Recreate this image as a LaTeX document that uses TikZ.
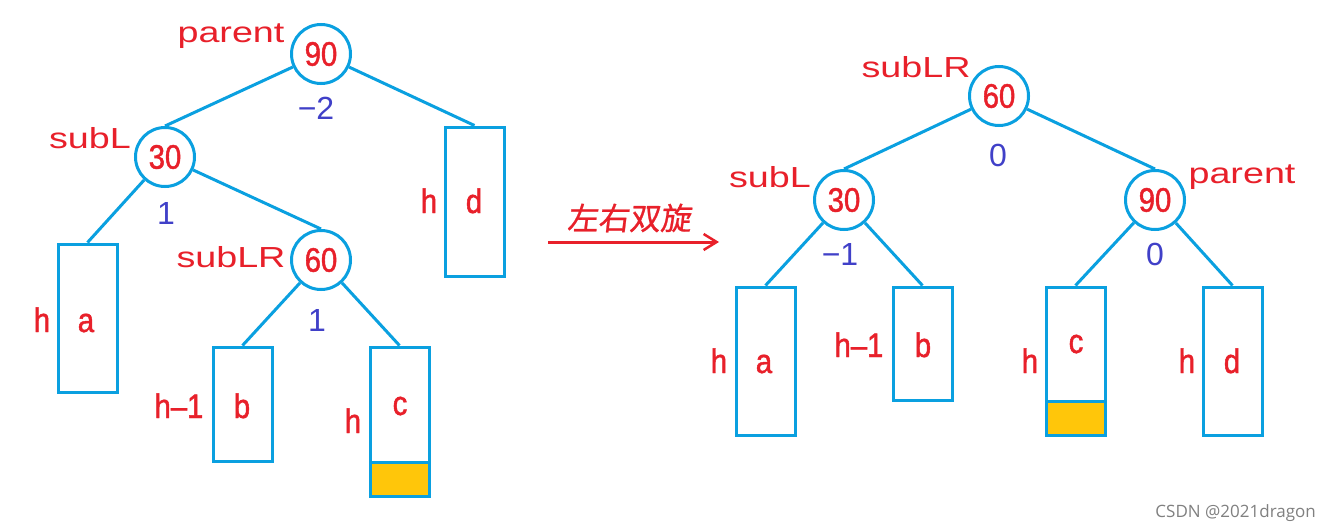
\documentclass[tikz,border=0pt]{standalone}
\usepackage{fontspec}
\setmainfont{Liberation Sans}
\newfontfamily\redfont[FakeStretch=0.86,FakeBold=1.3]{Liberation Sans}
\newfontfamily\labfont[FakeStretch=1.3]{Liberation Sans}
\newfontfamily\cjkfont[FakeSlant=0.12,FakeBold=0.8]{Noto Sans CJK SC}
\newfontfamily\wmfont{Open Sans}
\usetikzlibrary{arrows.meta}
\definecolor{lblue}{HTML}{0AA0E0}
\definecolor{tred}{HTML}{E8202A}
\definecolor{nblue}{HTML}{4040C8}
\definecolor{yel}{HTML}{FFC60A}
\tikzset{
  circ/.style={circle, draw=lblue, line width=3pt, minimum size=59pt, inner sep=0pt, fill=white,
    text=tred, font=\redfont\fontsize{34}{34}\selectfont},
  bx/.style={draw=lblue, line width=3pt, minimum width=59pt, inner sep=0pt},
  yb/.style={bx, fill=yel, minimum height=34pt},
  lt/.style={text=tred, font=\redfont\fontsize{34}{36}\selectfont, anchor=base, inner sep=0pt},
  nm/.style={text=tred, font=\labfont\fontsize{29}{30}\selectfont, anchor=base, inner sep=0pt},
  bf/.style={text=nblue, font=\fontsize{32}{34}\selectfont, inner sep=0pt},
  edge/.style={draw=lblue, line width=3pt},
}
\begin{document}
\begin{tikzpicture}[x=1pt,y=-1pt]
\useasboundingbox (0,0) rectangle (1330,530);
\fill[white] (0,0) rectangle (1330,530);
% ---------- left tree ----------
\node[bx, minimum height=149pt] (Ld) at (474.5,201.5) {};
\node[bx, minimum height=148pt] (La) at (87.5,318) {};
\node[bx, minimum height=114pt] (Lb) at (242.5,404) {};
\node[bx, minimum height=149pt] (Lc) at (399.5,421.5) {};
\node[yb] (Ly) at (399.5,479) {};
\node[circ] (L90) at (321,54) {90};
\node[circ] (L30) at (165,157) {30};
\node[circ] (L60) at (321,260) {60};
\draw[edge] (L90) -- (L30.north);
\draw[edge] (L90) -- (Ld.north);
\draw[edge] (L30) -- (La.north);
\draw[edge] (L30) -- (L60.north);
\draw[edge] (L60) -- (Lb.north);
\draw[edge] (L60) -- (Lc.north);
\node[nm] (Lparent) at (231,42) {parent};
\node[nm] (LsubL) at (90,148) {subL};
\node[nm] (LsubLR) at (231,267) {subLR};
\node[bf] (Lm2) at (316,108) {−2};
\node[bf] (L1a) at (166,213) {1};
\node[bf] (L1b) at (317,320) {1};
\node[lt] (Lhd) at (429,213) {h};
\node[lt] (Ltd) at (474,213) {d};
\node[lt] (Lha) at (42,332) {h};
\node[lt] (Lta) at (86,332) {a};
\node[lt] (Lhb) at (179,418) {h–1};
\node[lt] (Ltb) at (242,418) {b};
\node[lt] (Lhc) at (353,433) {h};
\node[lt] (Ltc) at (400,415) {c};
% ---------- arrow ----------
\coordinate (A1) at (548,242);
\coordinate (A2) at (719,242);
\draw[draw=tred, line width=3pt, -{Straight Barb[length=13pt,width=16pt,line width=2.5pt]}] (A1) -- (A2);
\node[text=tred, font=\cjkfont\fontsize{31}{32}\selectfont, inner sep=0pt] (rot) at (629,218) {左右双旋};
% ---------- right tree ----------
\node[bx, minimum height=148pt] (Ra) at (765.5,361) {};
\node[bx, minimum height=113pt] (Rb) at (922.5,343.5) {};
\node[bx, minimum height=148pt] (Rc) at (1075.5,361) {};
\node[yb] (Ry) at (1075.5,418) {};
\node[bx, minimum height=148pt] (Rd) at (1232.5,361) {};
\node[circ] (R60) at (999,96) {60};
\node[circ] (R30) at (844,200) {30};
\node[circ] (R90) at (1155,200) {90};
\draw[edge] (R60) -- (R30.north);
\draw[edge] (R60) -- (R90.north);
\draw[edge] (R30) -- (Ra.north);
\draw[edge] (R30) -- (Rb.north);
\draw[edge] (R90) -- (Rc.north);
\draw[edge] (R90) -- (Rd.north);
\node[nm] (RsubLR) at (916,77) {subLR};
\node[nm] (RsubL) at (770,187) {subL};
\node[nm] (Rparent) at (1242,183) {parent};
\node[bf] (R0a) at (998,155) {0};
\node[bf] (Rm1) at (840,254) {−1};
\node[bf] (R0b) at (1155,254) {0};
\node[lt] (Rha) at (719,373) {h};
\node[lt] (Rta) at (764,373) {a};
\node[lt] (Rhb) at (859,357) {h–1};
\node[lt] (Rtb) at (923,357) {b};
\node[lt] (Rhc) at (1030,373) {h};
\node[lt] (Rtc) at (1076,353) {c};
\node[lt] (Rhd) at (1187,373) {h};
\node[lt] (Rtd) at (1232,373) {d};
% ---------- watermark ----------
\node[text=black!50, font=\wmfont\fontsize{17}{18}\selectfont, anchor=base east, inner sep=0pt] (wm) at (1316,517) {CSDN @2021dragon};
\end{tikzpicture}
\end{document}
